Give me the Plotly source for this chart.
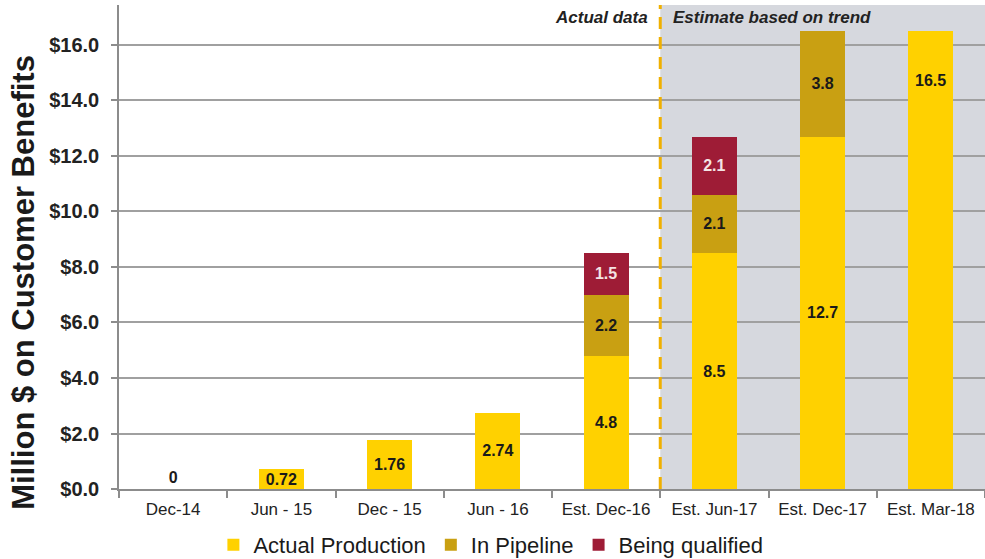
import plotly.graph_objects as go

# Reporting periods (category axis)
periods = ["Dec-14", "Jun - 15", "Dec - 15", "Jun - 16",
           "Est. Dec-16", "Est. Jun-17", "Est. Dec-17", "Est. Mar-18"]

# Million $ on customer benefits, by stage
actual_production = [0, 0.72, 1.76, 2.74, 4.8, 8.5, 12.7, 16.5]
in_pipeline = [None, None, None, None, 2.2, 2.1, 3.8, None]
being_qualified = [None, None, None, None, 1.5, 2.1, None, None]

y_ticks = [0, 2, 4, 6, 8, 10, 12, 14, 16]
y_tick_labels = [f"${v:.1f}" for v in y_ticks]

# Boundary between actual figures and trend-based estimates
first_estimate = periods.index("Est. Jun-17")
split = first_estimate - 0.5

YELLOW = "#FFD100"
GOLD = "#C9A012"
RED = "#9E1C36"
FONT = "Liberation Sans, Arial, sans-serif"


def fmt(v):
    return "" if v is None else f"{v:g}"


# Label for the last column is drawn near the top of the bar instead of the middle
top_label_idx = len(periods) - 1
ap_text = [fmt(v) for v in actual_production]
ap_pos = []
for i, v in enumerate(actual_production):
    if i == top_label_idx:
        ap_pos.append("none")
    elif v == 0:
        ap_pos.append("outside")
    else:
        ap_pos.append("inside")

fig = go.Figure()
fig.add_trace(go.Bar(
    name="Actual Production", x=periods, y=actual_production,
    marker=dict(color=YELLOW, line=dict(width=0)),
    text=ap_text, textposition=ap_pos, insidetextanchor="middle",
    textangle=0, cliponaxis=False, constraintext="none",
    textfont=dict(family=FONT, size=16, color="#1a1a1a", weight="bold"),
))
fig.add_trace(go.Bar(
    name="In Pipeline", x=periods, y=in_pipeline,
    marker=dict(color=GOLD, line=dict(width=0)),
    text=[fmt(v) for v in in_pipeline], textposition="inside",
    insidetextanchor="middle", textangle=0, constraintext="none",
    textfont=dict(family=FONT, size=16, color="#1a1a1a", weight="bold"),
))
fig.add_trace(go.Bar(
    name="Being qualified", x=periods, y=being_qualified,
    marker=dict(color=RED, line=dict(width=0)),
    text=[fmt(v) for v in being_qualified], textposition="inside",
    insidetextanchor="middle", textangle=0, constraintext="none",
    textfont=dict(family=FONT, size=16, color="#F4E4E4", weight="bold"),
))

shapes = [
    # shaded estimate zone
    dict(type="rect", xref="x", yref="paper", x0=split, x1=len(periods) - 0.5,
         y0=0, y1=1, fillcolor="#D6D8DE", line=dict(width=0), layer="below"),
    # divider between actual data and estimates
    dict(type="line", xref="x", yref="paper", x0=split, x1=split, y0=0, y1=1,
         line=dict(color="#F0B000", width=3, dash="12px,8px"), layer="above"),
]

annotations = [
    dict(text="Actual data", xref="x", yref="paper", x=split, y=0.975,
         xanchor="right", yanchor="middle", xshift=-10, showarrow=False,
         font=dict(family=FONT, size=17, color="#222", weight="bold", style="italic")),
    dict(text="Estimate based on trend", xref="x", yref="paper", x=split, y=0.975,
         xanchor="left", yanchor="middle", xshift=11, showarrow=False,
         font=dict(family=FONT, size=17, color="#222", weight="bold", style="italic")),
    dict(text="Million $ on Customer Benefits", xref="paper", yref="paper",
         x=0, y=0.426, xshift=-95, xanchor="center", yanchor="middle",
         textangle=-90, showarrow=False,
         font=dict(family=FONT, size=31, color="#1a1a1a", weight="bold")),
    dict(text=fmt(actual_production[top_label_idx]), xref="x", yref="y",
         x=periods[top_label_idx], y=actual_production[top_label_idx],
         yshift=-49, yanchor="middle", showarrow=False,
         font=dict(family=FONT, size=16, color="#1a1a1a", weight="bold")),
]

fig.update_layout(
    width=985, height=559,
    margin=dict(l=119, r=0, t=5, b=70),
    plot_bgcolor="white", paper_bgcolor="white",
    barmode="stack", bargap=0.584,
    font=dict(family=FONT, color="#222"),
    shapes=shapes, annotations=annotations,
    showlegend=True,
    legend=dict(orientation="h", x=0.109, xanchor="left",
                yref="container", y=0.025, yanchor="middle",
                traceorder="normal",
                font=dict(family=FONT, size=22, color="#1a1a1a"),
                bgcolor="rgba(0,0,0,0)"),
    xaxis=dict(type="category", range=[-0.5, len(periods) - 0.5],
               showline=True, linecolor="#8C8C8C", linewidth=1.5,
               ticks="outside", tickson="boundaries", ticklen=7,
               tickcolor="#8C8C8C", tickwidth=1.5, showgrid=False,
               ticklabelstandoff=4,
               tickfont=dict(family=FONT, size=17, color="#222")),
    yaxis=dict(range=[0, 17.44], tickmode="array", tickvals=y_ticks,
               ticktext=y_tick_labels, showgrid=True, gridcolor="#A0A0A0",
               gridwidth=1.5, zeroline=False, showline=True,
               linecolor="#8C8C8C", linewidth=1.5, ticks="outside",
               ticklen=6, tickcolor="#8C8C8C", tickwidth=1.5,
               ticklabelstandoff=8,
               tickfont=dict(family=FONT, size=20, color="#222", weight="bold")),
)

fig.write_html("out.html")
